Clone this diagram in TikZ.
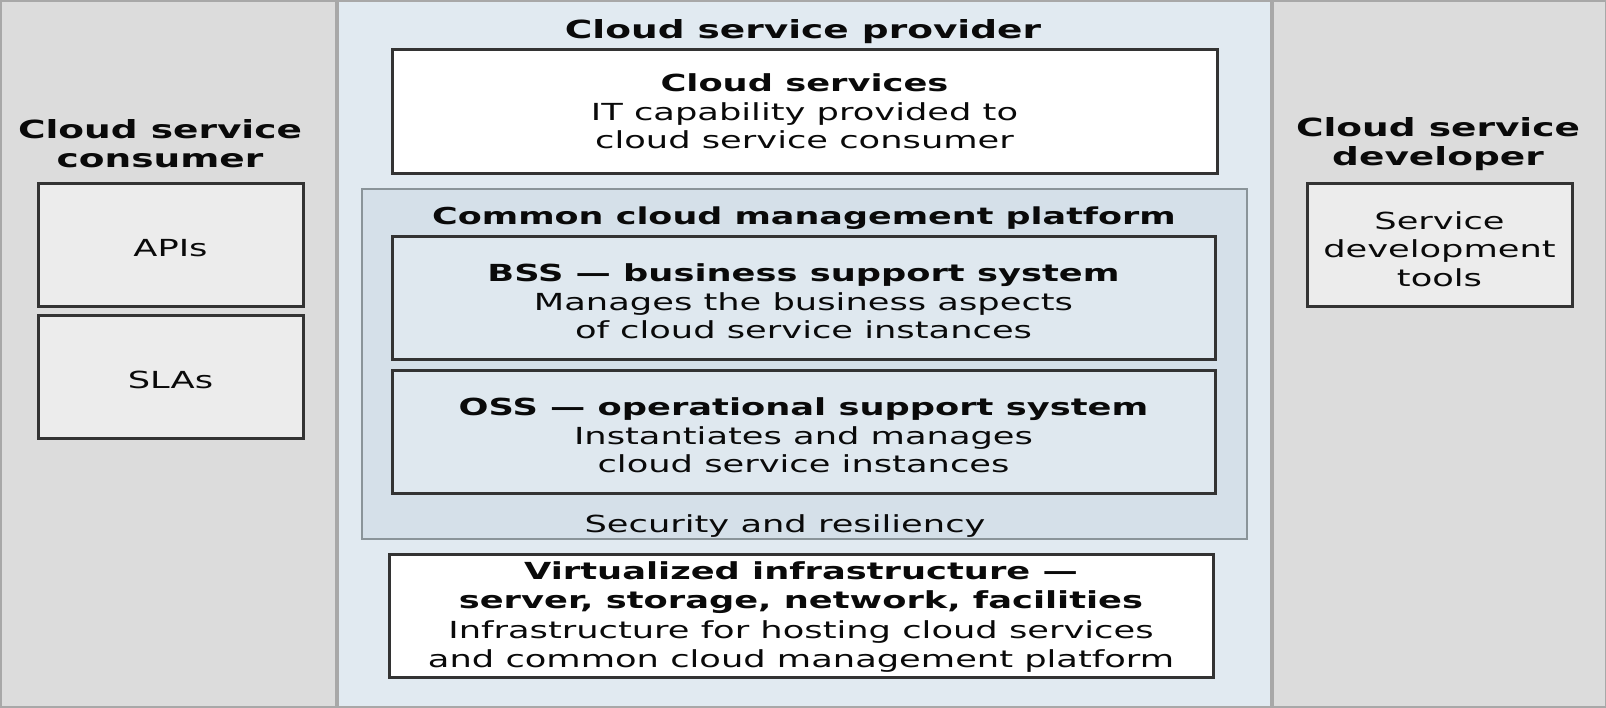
\documentclass[tikz,border=0pt]{standalone}
\usepackage{fontspec}
\setmainfont{DejaVu Sans}[FakeStretch=1.5]
\definecolor{sidebg}{HTML}{DCDCDC}
\definecolor{sidebox}{HTML}{ECECEC}
\definecolor{centerbg}{HTML}{E1EAF1}
\definecolor{platbg}{HTML}{D5E0E9}
\definecolor{subbg}{HTML}{DFE8EF}
\definecolor{boxline}{HTML}{333333}
\definecolor{platline}{HTML}{8A9499}
\definecolor{sepline}{HTML}{A8A8A8}
\definecolor{txt}{HTML}{0A0A0A}
\begin{document}
\begin{tikzpicture}[x=1pt,y=-1pt,
  panel/.style={draw=none, inner sep=0pt, anchor=north west},
  box/.style={draw=boxline, line width=3pt, inner sep=0pt},
  boxtext/.style={align=center, text=txt, inner sep=0pt,
    font=\fontsize{23.5}{28.5}\selectfont},
  paneltitle/.style={align=center, text=txt, inner sep=0pt,
    font=\fontsize{25}{29}\selectfont\bfseries},
  plaintext/.style={align=center, text=txt, inner sep=0pt,
    font=\fontsize{23.5}{28.5}\selectfont}]
\useasboundingbox (0,0) rectangle (1606,707);
% panels
\node[panel, fill=sidebg, minimum width=337pt, minimum height=707pt] (left) at (0,0) {};
\node[panel, fill=centerbg, minimum width=935pt, minimum height=707pt] (center) at (337,0) {};
\node[panel, fill=sidebg, minimum width=334pt, minimum height=707pt] (right) at (1272,0) {};
\draw[sepline, line width=4pt] (left.north east) -- (left.south east);
\draw[sepline, line width=4pt] (right.north west) -- (right.south west);
\draw[sepline, line width=3pt] (0,0) rectangle (1606,707);
% consumer
\node[paneltitle] (consT) at (160,144) {Cloud service\\consumer};
\node[box, fill=sidebox, minimum width=265pt, minimum height=123pt] (apis) at (170.5,244.5) {};
\node[boxtext] (apisT) at ([yshift=-4pt]apis.center) {APIs};
\node[box, fill=sidebox, minimum width=265pt, minimum height=123pt] (slas) at (170.5,376.5) {};
\node[boxtext] (slasT) at ([yshift=-3.5pt]slas.center) {SLAs};
% developer
\node[paneltitle] (devT) at (1438,144) {Cloud service\\developer};
\node[box, fill=sidebox, minimum width=265pt, minimum height=123pt] (tools) at (1439.5,244.5) {};
\node[boxtext] (toolsT) at ([yshift=-4.5pt]tools.center) {Service\\development\\tools};
% provider
\node[paneltitle] (provT) at (803,32) {Cloud service provider};
\node[box, fill=white, minimum width=825pt, minimum height=124pt] (cs) at (804.5,111) {};
\node[boxtext] (csT) at ([yshift=-0.5pt]cs.center) {\textbf{Cloud services}\\IT capability provided to\\cloud service consumer};
\node[draw=platline, line width=2.5pt, fill=platbg, inner sep=0pt, minimum width=885pt, minimum height=350pt] (plat) at (804.5,364) {};
\node[plaintext, font=\fontsize{23.3}{28.5}\selectfont\bfseries] (platT) at (804,218) {Common cloud management platform};
\node[box, fill=subbg, minimum width=823pt, minimum height=123pt] (bss) at (803.5,297.5) {};
\node[boxtext] (bssT) at ([yshift=-4pt]bss.center) {\textbf{BSS — business support system}\\Manages the business aspects\\of cloud service instances};
\node[box, fill=subbg, minimum width=823pt, minimum height=123pt] (oss) at (803.5,431.5) {};
\node[boxtext] (ossT) at ([yshift=-4pt]oss.center) {\textbf{OSS — operational support system}\\Instantiates and manages\\cloud service instances};
\node[plaintext] (sec) at (785,526) {Security and resiliency};
\node[box, fill=white, minimum width=824pt, minimum height=123pt] (virt) at (801,615.5) {};
\node[boxtext, font=\fontsize{23.5}{29.6}\selectfont] (virtT) at ([yshift=-1.5pt]virt.center) {\textbf{Virtualized infrastructure —}\\\textbf{server, storage, network, facilities}\\Infrastructure for hosting cloud services\\and common cloud management platform};
\end{tikzpicture}
\end{document}
